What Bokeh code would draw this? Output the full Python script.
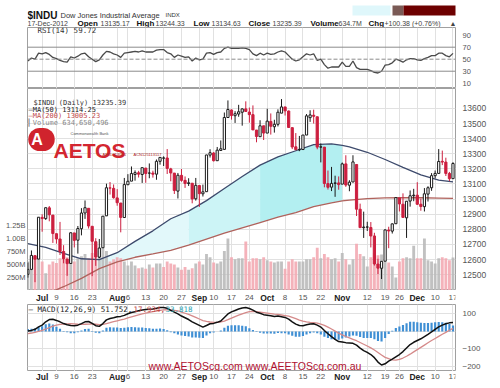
from bokeh.plotting import figure
from bokeh.models import (Range1d, LinearAxis, FixedTicker, Grid, Span, Label,
                          ColumnDataSource, BoxAnnotation)
from bokeh.layouts import column
from bokeh.embed import file_html
from bokeh.resources import INLINE
from bokeh.core.properties import value

# ---------------- data ----------------
dates = ["06-26", "06-27", "06-28", "06-29",
         "07-02", "07-03", "07-05", "07-06", "07-09", "07-10", "07-11", "07-12", "07-13",
         "07-16", "07-17", "07-18", "07-19", "07-20", "07-23", "07-24", "07-25", "07-26",
         "07-27", "07-30", "07-31",
         "08-01", "08-02", "08-03", "08-06", "08-07", "08-08", "08-09", "08-10", "08-13",
         "08-14", "08-15", "08-16", "08-17", "08-20", "08-21", "08-22", "08-23", "08-24",
         "08-27", "08-28", "08-29", "08-30", "08-31",
         "09-04", "09-05", "09-06", "09-07", "09-10", "09-11", "09-12", "09-13", "09-14",
         "09-17", "09-18", "09-19", "09-20", "09-21", "09-24", "09-25", "09-26", "09-27", "09-28",
         "10-01", "10-02", "10-03", "10-04", "10-05", "10-08", "10-09", "10-10", "10-11",
         "10-12", "10-15", "10-16", "10-17", "10-18", "10-19", "10-22", "10-23", "10-24",
         "10-25", "10-26", "10-31",
         "11-01", "11-02", "11-05", "11-06", "11-07", "11-08", "11-09", "11-12", "11-13",
         "11-14", "11-15", "11-16", "11-19", "11-20", "11-21", "11-23", "11-26", "11-27",
         "11-28", "11-29", "11-30",
         "12-03", "12-04", "12-05", "12-06", "12-07", "12-10", "12-11", "12-12", "12-13",
         "12-14", "12-17"]

opens = [12502, 12535, 12625, 12603, 12879, 12871, 12942, 12894, 12771, 12736,
         12653, 12603, 12574, 12776, 12728, 12804, 12908, 12939, 12820, 12718,
         12616, 12678, 12889, 13074, 13071, 13008, 12974, 12878, 13095, 13119,
         13163, 13174, 13163, 13205, 13172, 13172, 13165, 13250, 13271, 13272,
         13200, 13172, 13053, 13157, 13124, 13103, 13105, 13002, 13090, 13035,
         13049, 13291, 13305, 13254, 13322, 13329, 13540, 13590, 13552, 13563,
         13575, 13597, 13576, 13559, 13457, 13413, 13485, 13437, 13514, 13479,
         13495, 13569, 13610, 13583, 13473, 13346, 13326, 13328, 13424, 13539,
         13555, 13545, 13344, 13344, 13103, 13079, 13104, 13107, 13099, 13233,
         13092, 13113, 13229, 12933, 12811, 12815, 12812, 12756, 12570, 12542,
         12589, 12795, 12788, 12837, 13008, 12966, 12876, 12987, 13022, 13026,
         12966, 12950, 13033, 13075, 13155, 13170, 13250, 13245, 13170, 13135.17]
highs = [12580, 12660, 12630, 12880, 12900, 12944, 12954, 12894, 12771, 12849,
         12695, 12604, 12780, 12776, 12822, 12940, 12991, 12939, 12820, 12741,
         12736, 12887, 13102, 13113, 13097, 13066, 12974, 13140, 13165, 13216,
         13190, 13187, 13208, 13207, 13236, 13188, 13262, 13277, 13283, 13331,
         13207, 13172, 13173, 13199, 13150, 13138, 13105, 13140, 13092, 13096,
         13293, 13330, 13311, 13345, 13388, 13573, 13653, 13593, 13582, 13624,
         13600, 13647, 13606, 13620, 13457, 13522, 13485, 13598, 13567, 13525,
         13594, 13662, 13610, 13586, 13473, 13437, 13418, 13424, 13563, 13588,
         13592, 13545, 13368, 13344, 13189, 13213, 13155, 13150, 13242, 13290,
         13125, 13290, 13229, 12970, 12917, 12850, 12848, 12777, 12605, 12589,
         12799, 12817, 12839, 13010, 13008, 13038, 12986, 13057, 13068, 13112,
         13003, 13073, 13085, 13172, 13189, 13331, 13321, 13274, 13180, 13244.33]
lows = [12480, 12530, 12450, 12603, 12784, 12862, 12853, 12710, 12705, 12630,
        12575, 12492, 12574, 12680, 12639, 12760, 12869, 12805, 12490, 12558,
        12610, 12678, 12889, 13030, 13003, 12956, 12780, 12878, 13093, 13119,
        13122, 13143, 13107, 13108, 13138, 13142, 13128, 13228, 13219, 13166,
        13118, 13034, 13004, 13115, 13074, 13087, 12972, 12990, 12948, 13017,
        13049, 13275, 13249, 13254, 13322, 13329, 13540, 13526, 13504, 13545,
        13486, 13579, 13506, 13457, 13376, 13413, 13391, 13437, 13427, 13440,
        13481, 13569, 13553, 13473, 13331, 13326, 13317, 13328, 13424, 13511,
        13500, 13330, 13243, 13078, 13063, 13053, 13015, 13062, 13099, 13081,
        13052, 13113, 12888, 12811, 12743, 12789, 12680, 12560, 12504, 12471,
        12589, 12675, 12772, 12837, 12918, 12878, 12743, 12950, 12986, 12961,
        12923, 12918, 12984, 13055, 13137, 13170, 13225, 13153, 13119, 13134.63]
closes = [12535, 12627, 12602, 12880, 12871, 12943, 12896, 12772, 12736, 12653,
          12605, 12573, 12777, 12727, 12805, 12908, 12943, 12822, 12721, 12617,
          12676, 12887, 13075, 13073, 13009, 12976, 12879, 13096, 13118, 13169,
          13175, 13165, 13208, 13169, 13172, 13165, 13250, 13276, 13272, 13203,
          13173, 13057, 13158, 13124, 13103, 13108, 13001, 13091, 13036, 13048,
          13292, 13307, 13254, 13324, 13333, 13540, 13593, 13553, 13565, 13578,
          13597, 13580, 13559, 13458, 13414, 13485, 13437, 13516, 13482, 13495,
          13575, 13610, 13584, 13474, 13345, 13327, 13329, 13424, 13551, 13557,
          13548, 13344, 13346, 13103, 13078, 13104, 13107, 13096, 13233, 13093,
          13112, 13246, 12933, 12811, 12815, 12815, 12756, 12571, 12543, 12588,
          12796, 12789, 12836, 13010, 12968, 12879, 12986, 13022, 13026, 12966,
          12951, 13035, 13075, 13155, 13170, 13249, 13245, 13170, 13135, 13235.39]
volume_m = [560, 560, 680, 820, 560, 330, 500, 560, 530, 620,
            600, 640, 530, 560, 620, 660, 700, 620, 720, 880,
            760, 820, 760, 560, 600, 640, 620, 560, 480, 560,
            480, 430, 440, 420, 500, 440, 520, 520, 450, 560,
            520, 500, 440, 400, 450, 400, 430, 520, 560, 500,
            700, 640, 540, 520, 560, 760, 1000, 640, 600, 620,
            620, 940, 560, 620, 620, 600, 640, 580, 560, 540,
            560, 560, 420, 560, 600, 560, 560, 560, 600, 600,
            640, 820, 620, 700, 640, 600, 620, 560, 720, 600,
            500, 600, 900, 700, 660, 460, 640, 720, 680, 690,
            560, 540, 460, 250, 560, 620, 640, 620, 860, 620,
            620, 1000, 580, 560, 520, 620, 640, 620, 580, 634.65]
rsi = [47, 52, 50, 60, 59, 61, 58, 53, 51, 48,
       46, 45, 54, 52, 55, 59, 60, 54, 50, 46,
       49, 57, 63, 62, 59, 57, 53, 60, 61, 62,
       63, 62, 64, 62, 62, 62, 65, 66, 66, 61,
       59, 53, 57, 55, 53, 54, 47, 52, 49, 50,
       60, 61, 58, 61, 62, 68, 70, 68, 68, 68,
       69, 68, 66, 59, 56, 60, 57, 60, 58, 59,
       62, 64, 62, 56, 50, 47, 49, 54, 59, 57,
       59, 48, 50, 41, 35, 37, 37, 37, 45, 38,
       38, 47, 36, 33, 33, 33, 31, 28, 27, 30,
       40, 41, 44, 50, 48, 45, 49, 51, 51, 49,
       48, 51, 53, 56, 56, 60, 60, 56, 54, 59.72]
macd = [2, 6, 12, 26, 36, 55, 68, 70, 63, 55,
        45, 38, 34, 33, 36, 45, 55, 57, 46, 33,
        29, 45, 66, 74, 78, 84, 86, 92, 101, 108,
        113, 118, 122, 125, 127, 128, 132, 137, 137, 132,
        120, 110, 100, 88, 78, 68, 55, 45, 35, 25,
        34, 44, 46, 52, 60, 80, 100, 112, 120, 128,
        134, 137, 131, 122, 110, 104, 96, 93, 90, 86,
        88, 84, 80, 70, 55, 42, 34, 33, 38, 42,
        44, 36, 25, 5, -13, -30, -45, -58, -60, -64,
        -66, -68, -78, -95, -110, -120, -132, -150, -175, -192,
        -185, -170, -158, -145, -132, -115, -95, -75, -62, -52,
        -42, -30, -17, -3, 12, 26, 36, 44, 49, 51.752]
signal = [-12, -9, -5, 0, 6, 14, 22, 30, 36, 40,
          42, 43, 44, 43, 41, 40, 41, 42, 43, 41,
          39, 40, 45, 50, 56, 61, 66, 71, 77, 83,
          89, 95, 100, 105, 109, 113, 116, 120, 123, 125,
          124, 121, 117, 111, 104, 97, 89, 80, 71, 62,
          57, 54, 52, 52, 54, 59, 67, 76, 85, 93,
          101, 108, 113, 114, 113, 111, 108, 105, 102, 99,
          97, 94, 91, 87, 80, 73, 65, 59, 55, 52,
          50, 47, 42, 35, 25, 14, 2, -10, -20, -29,
          -37, -45, -53, -63, -73, -83, -94, -106, -120, -135,
          -148, -156, -162, -164, -160, -152, -142, -130, -117, -104,
          -91, -78, -65, -52, -40, -28, -16, -5, 7, 17.934]
hist = [14, 15, 17, 26, 30, 41, 46, 40, 27, 15,
        3, -5, -10, -10, -5, 5, 14, 15, 3, -8,
        -10, 5, 21, 24, 22, 23, 20, 21, 24, 25,
        24, 23, 22, 20, 18, 15, 16, 17, 14, 7,
        -4, -11, -17, -23, -26, -29, -34, -35, -36, -37,
        -23, -10, -6, 0, 6, 21, 33, 36, 35, 35,
        33, 29, 18, 8, -3, -7, -12, -12, -12, -13,
        -9, -10, -11, -17, -25, -31, -31, -26, -17, -10,
        -6, -11, -17, -30, -38, -44, -47, -48, -40, -35,
        -29, -23, -25, -32, -37, -37, -38, -44, -55, -57,
        -37, -14, 4, 19, 28, 37, 47, 55, 55, 52,
        49, 48, 48, 49, 52, 54, 52, 49, 42, 33.818]

ma_dates = ["06-26", "07-03", "07-11", "07-18", "07-25", "08-01", "08-08", "08-15",
            "08-22", "08-29", "09-06", "09-13", "09-20", "09-27", "10-04", "10-11",
            "10-18", "10-25", "11-01", "11-05", "11-12", "11-19", "11-27", "12-04",
            "12-11", "12-17"]
ma50 = [12706, 12680, 12640, 12605, 12600, 12645, 12720, 12790, 12870, 12920,
        12990, 13070, 13150, 13225, 13280, 13320, 13360, 13365, 13355, 13345,
        13310, 13262, 13210, 13160, 13125, 13114.25]
ma200 = [12330, 12370, 12420, 12475, 12540, 12585, 12615, 12637, 12660, 12695,
         12735, 12775, 12810, 12845, 12880, 12910, 12950, 12975, 12988, 12993,
         13003, 13008, 13010, 13009, 13007, 13005.23]

day_tick_dates = ["07-09", "07-16", "07-23", "08-06", "08-13", "08-20", "08-27",
                  "09-10", "09-17", "09-24", "10-08", "10-15", "10-22",
                  "11-12", "11-19", "11-26", "12-10", "12-17"]
day_tick_labels = ["9", "16", "23", "6", "13", "20", "27", "10", "17", "24",
                   "8", "15", "22", "12", "19", "26", "10", "17"]
month_dates = ["07-02", "08-01", "09-04", "10-01", "11-01", "12-03"]
month_labels = ["Jul", "Aug", "Sep", "Oct", "Nov", "Dec"]

price_ticks = [12500, 12600, 12700, 12800, 12900, 13000, 13100, 13200, 13300, 13400, 13500, 13600]
vol_ticks = [250, 500, 750, 1000, 1250]
vol_tick_labels = ["250M", "500M", "750M", "1.00B", "1.25B"]
rsi_ticks = [10, 30, 50, 70, 90]
macd_ticks = [100, -100, -200]
macd_grid = [100, 0, -100, -200]

# ---------------- derived ----------------
pos = {d: i for i, d in enumerate(dates)}
xi = list(range(len(dates)))
day_ticks = [pos[d] for d in day_tick_dates]
month_ticks = [pos[d] for d in month_dates]
all_ticks = sorted(day_ticks + month_ticks)
ma_x = [pos[d] for d in ma_dates]

W, LB, RB = 500, 27, 45
FW = W - LB - RB
FONT = "Liberation Sans"
MONO = "DejaVu Sans Mono"
GRIDC = "#e1e1e1"
OUTC = "#a0a0a0"
RED = "#cc1f3f"

xr = Range1d(-0.1, 119.7)


def base(h, yr, grid=True, outline=True, x_range=xr):
    p = figure(width=W, height=h, x_range=x_range, y_range=yr, toolbar_location=None,
               output_backend="svg", min_border_left=LB, min_border_right=RB,
               min_border_top=0, min_border_bottom=0,
               x_axis_location=None, y_axis_location=None, title=None)
    p.outline_line_color = OUTC if outline else None
    p.border_fill_color = "white"
    p.background_fill_color = "white"
    p.grid.grid_line_color = None
    if grid:
        p.add_layout(Grid(dimension=0, ticker=FixedTicker(ticks=all_ticks),
                          grid_line_color=GRIDC, grid_line_width=1))
    return p


def style_axis(ax, size="8px", standoff=5, color="#555555"):
    ax.major_tick_out = 0
    ax.major_tick_in = 0
    ax.minor_tick_out = 0
    ax.minor_tick_in = 0
    ax.axis_line_color = None
    ax.major_label_text_font = FONT
    ax.major_label_text_font_size = size
    ax.major_label_text_color = color
    ax.major_label_standoff = standoff


def txt(p, x, y, text, size="8px", color="#333333", bold=False, font=FONT,
        xu="screen", yu="screen", base_="alphabetic", align="left", **kw):
    p.add_layout(Label(x=x, y=y, x_units=xu, y_units=yu, text=text,
                       text_font_size=size, text_color=color,
                       text_font_style="bold" if bold else "normal",
                       text_font=font, text_baseline=base_, text_align=align, **kw))


def box(p, y, text, border, color="#222222", bold=False, size="7.5px", **kw):
    txt(p, FW + 2, y, text, size=size, color=color, bold=bold, yu="data",
        base_="middle", border_line_color=border, border_line_width=1,
        background_fill_color="white", padding=1, border_radius=2, **kw)


def xlabels(p, yv):
    p.text(x=day_ticks, y=yv, text=day_tick_labels, text_align="center",
           text_baseline="middle", text_font=value(FONT), text_font_size="8px",
           text_color="#555555")
    p.text(x=month_ticks, y=yv, text=month_labels, text_align="center",
           text_baseline="middle", text_font=value(FONT), text_font_size="8.5px",
           text_font_style="bold", text_color="#222222")


# ---------------- header (data units == page pixels) ----------------
ph = base(27, Range1d(27, 0), grid=False, outline=False, x_range=Range1d(LB, W - RB))
for l, r, col in [(352, 390, "#dff7fb"), (392, 403, "#7a5a55"), (403, 496, "#6d0000")]:
    ph.add_layout(BoxAnnotation(left=l, right=r, top=5, bottom=15, fill_color=col,
                                fill_alpha=1, line_color=None))
txt(ph, 27, 14.5, "$INDU", size="10px", bold=True, color="#111111", xu="data", yu="data")
txt(ph, 60, 14.5, "Dow Jones Industrial Average", size="7.5px", color="#333333", xu="data", yu="data")
txt(ph, 165, 14.5, "INDX", size="6px", color="#333333", xu="data", yu="data")
hdr = [(27, "17-Dec-2012", False), (77, "Open", True), (100, "13135.17", False),
       (136, "High", True), (155, "13244.33", False), (193, "Low", True),
       (211, "13134.63", False), (248, "Close", True), (272, "13235.39", False),
       (310, "Volume", True), (338, "634.7M", False), (368, "Chg", True),
       (384, "+100.38 (+0.76%)", False), (449, "\u25b2", False)]
for hx, t, b in hdr:
    txt(ph, hx, 23, t, size="8px" if b else "7px", bold=b,
        color="#111111" if b else "#444444", xu="data", yu="data")

# ---------------- RSI panel ----------------
pr = base(61, Range1d(1.2, 102.8))
ax = LinearAxis(ticker=FixedTicker(ticks=rsi_ticks))
style_axis(ax, size="7.5px", standoff=7)
pr.add_layout(ax, "right")
for lvl, dash in [(70, "solid"), (30, "solid"), (50, "4 2")]:
    pr.add_layout(Span(location=lvl, dimension="width", line_color="#8c8c8c",
                       line_width=1, line_dash=dash))
pr.line(xi, rsi, line_color="#4a4a4a", line_width=1.3)
box(pr, rsi[-1], "59.72", "#333333")
txt(pr, 10, 58, "RSI(14) 59.72", size="7.5px", font=MONO, base_="middle", color="#333333")

# ---------------- main panel ----------------
pm = base(202, Range1d(12395, 13732))
pm.extra_y_ranges = {"vol": Range1d(0, 3885)}
pm.add_layout(Grid(dimension=1, ticker=FixedTicker(ticks=price_ticks),
                   grid_line_color=GRIDC, grid_line_width=1))
ay = LinearAxis(ticker=FixedTicker(ticks=price_ticks))
style_axis(ay, size="8.5px", standoff=7)
pm.add_layout(ay, "right")
av = LinearAxis(y_range_name="vol", ticker=FixedTicker(ticks=vol_ticks),
                major_label_overrides={t: l for t, l in zip(vol_ticks, vol_tick_labels)})
style_axis(av, size="7.5px", standoff=2)
pm.add_layout(av, "left")

segs = [("07-25", "08-29", "#e2f8fa"), ("08-29", "09-27", "#ccf4f6"), ("09-27", "11-01", "#b3eff1")]
for a, b, col in segs:
    i0, i1 = ma_dates.index(a), ma_dates.index(b) + 1
    pm.varea(x=ma_x[i0:i1], y1=ma200[i0:i1], y2=ma50[i0:i1], fill_color=col, fill_alpha=1)

prev = [opens[0]] + closes[:-1]
vcol = ["#f3aab3" if c < pc_ else "#bababa" for c, pc_ in zip(closes, prev)]
pm.vbar(x=xi, width=0.8, top=volume_m, bottom=0, y_range_name="vol",
        fill_color=vcol, line_color=None, fill_alpha=0.9)

pm.line(ma_x, ma200, line_color="#b0625c", line_width=1.3)
pm.line(ma_x, ma50, line_color="#3d4a6c", line_width=1.3)

up = [c >= o for o, c in zip(opens, closes)]
src = ColumnDataSource(dict(
    x=xi, h=highs, l=lows,
    top=[max(o, c) for o, c in zip(opens, closes)],
    bot=[min(o, c) for o, c in zip(opens, closes)],
    fill=["white" if u else RED for u in up],
    line=["#1a1a1a" if u else RED for u in up]))
pm.segment(x0="x", y0="l", x1="x", y1="h", line_color="line", line_width=1, source=src)
pm.vbar(x="x", width=0.62, top="top", bottom="bot", fill_color="fill", line_color="line",
        line_width=1, source=src)

box(pm, closes[-1], "13235.39", "#222222", bold=True)
box(pm, ma50[-1], "13114.25", "#3d4a6c")
box(pm, ma200[-1], "13005.23", "#c05050", color="#b03030")
box(pm, volume_m[-1], "634650496", "#888888", color="#444444", size="6.5px", y_range_name="vol")

txt(pm, 6, 187.5, "$INDU (Daily) 13235.39", size="7px", font=MONO, base_="middle", color="#333333")
txt(pm, 1, 181, "\u2014MA(50) 13114.25", size="7px", font=MONO, base_="middle", color="#222222")
txt(pm, 1, 174.5, "\u2014MA(200) 13005.23", size="7px", font=MONO, base_="middle", color="#c24b4b")
txt(pm, 1, 168, "\u258eVolume 634,650,496", size="7px", font=MONO, base_="middle", color="#8a8a8a")

# AETOS logo
txt(pm, 14, 151, " A ", size="16px", bold=True, color="white", base_="middle", align="center",
    background_fill_color="#d0232d", border_radius=12, padding=3)
txt(pm, 26, 140, "AETOS", size="21px", bold=True, color="#d32630")
txt(pm, 43, 157, "Commonwealth Bank", size="4px", color="#555555")
txt(pm, 75, 136, "AFSL313016", size="4px", color="#aa2222")
txt(pm, 106, 136, "ACN125113117", size="4px", color="#aa2222")

# x labels strip under main panel
s1 = base(14, Range1d(0, 1), grid=False, outline=False)
xlabels(s1, 0.5)

# ---------------- MACD panel ----------------
pc = base(67, Range1d(-229, 154))
pc.add_layout(Grid(dimension=1, ticker=FixedTicker(ticks=macd_grid),
                   grid_line_color=GRIDC, grid_line_width=1))
ac = LinearAxis(ticker=FixedTicker(ticks=macd_ticks))
style_axis(ac, size="8px", standoff=7)
pc.add_layout(ac, "right")

pc.vbar(x=xi, width=0.6, top=hist, bottom=0, fill_color="#3f8fd4", line_color=None)
pc.line(xi, signal, line_color="#d58a8a", line_width=1.3)
pc.line(xi, macd, line_color="#111111", line_width=1.5)

box(pc, signal[-1], "17.934", "#c05050", color="#b03030", size="7px")
box(pc, macd[-1], "51.752", "#222222", size="7px")

txt(pc, 1, 62.5, "\u2014", size="7.5px", font=MONO, base_="middle", color="#111111")
txt(pc, 10, 62.5, "MACD(12,26,9) 51.752,", size="7.5px", font=MONO, base_="middle", color="#222222")
txt(pc, 106, 62.5, "17.934,", size="7.5px", font=MONO, base_="middle", color="#c04040")
txt(pc, 138, 62.5, "33.818", size="7.5px", font=MONO, base_="middle", color="#2a9fb0")

txt(pc, 121, 6, "www.AETOScg.com", size="10.5px", color="#b01030")
txt(pc, 218, 6, "www.AEETOScg.com.au", size="10.5px", color="#b01030")

s2 = base(17, Range1d(0, 1), grid=False, outline=False)
xlabels(s2, 0.68)

layout = column(ph, pr, pm, s1, pc, s2, spacing=0)
open("out.html", "w").write(file_html(layout, INLINE))
